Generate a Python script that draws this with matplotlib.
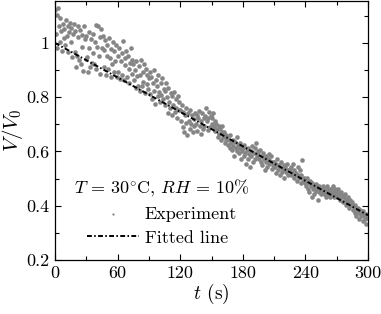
import numpy as np
import matplotlib
matplotlib.use("Agg")
import matplotlib.pyplot as plt
from matplotlib.ticker import MultipleLocator

plt.rcParams["font.family"] = "serif"
plt.rcParams["font.serif"] = ["cmr10"]
plt.rcParams["mathtext.fontset"] = "cm"
plt.rcParams["axes.formatter.use_mathtext"] = True
plt.rcParams["axes.unicode_minus"] = False

# measured V/V0, one sample every 0.75 s (rows of 15 s)
sample_dt = 0.75
v_exp = [
    1.121, 1.034, 1.102, 0.983, 1.128, 1.062, 1.004, 1.093, 1.045, 0.972, 1.071, 1.018, 1.052, 0.994, 1.083, 1.027, 1.064, 0.968, 1.041, 1.072,
    1.003, 1.054, 0.948, 1.032, 1.069, 0.967, 1.043, 0.912, 0.952, 1.061, 1.021, 0.936, 1.048, 0.924, 1.029, 0.986, 0.898, 1.063, 1.014, 0.942,
    1.024, 0.947, 0.893, 1.041, 0.982, 0.913, 1.013, 0.928, 0.964, 1.033, 0.921, 1.002, 1.068, 0.904, 0.987, 1.062, 0.953, 1.021, 0.887, 1.052,
    0.983, 1.027, 0.911, 0.974, 1.012, 0.883, 0.952, 0.991, 0.904, 1.018, 0.943, 0.874, 0.978, 0.922, 1.003, 0.892, 0.971, 0.934, 0.992, 0.873,
    0.951, 0.892, 0.983, 0.867, 0.934, 0.962, 0.883, 1.007, 0.862, 0.943, 0.918, 0.972, 0.874, 0.951, 0.903, 0.852, 0.928, 0.981, 0.884, 0.937,
    0.924, 0.863, 0.901, 0.833, 0.932, 0.877, 0.842, 0.914, 0.822, 0.881, 0.938, 0.843, 0.892, 0.858, 0.921, 0.814, 0.903, 0.847, 0.882, 0.831,
    0.872, 0.893, 0.811, 0.874, 0.793, 0.852, 0.902, 0.824, 0.774, 0.863, 0.842, 0.803, 0.881, 0.818, 0.782, 0.853, 0.807, 0.872, 0.794, 0.832,
    0.823, 0.771, 0.853, 0.802, 0.743, 0.834, 0.782, 0.762, 0.814, 0.733, 0.803, 0.772, 0.821, 0.744, 0.793, 0.761, 0.722, 0.804, 0.752, 0.783,
    0.752, 0.713, 0.771, 0.692, 0.744, 0.671, 0.733, 0.762, 0.704, 0.662, 0.741, 0.713, 0.683, 0.754, 0.702, 0.734, 0.673, 0.721, 0.694, 0.743,
    0.702, 0.733, 0.674, 0.722, 0.751, 0.693, 0.664, 0.714, 0.742, 0.682, 0.724, 0.693, 0.732, 0.762, 0.713, 0.681, 0.723, 0.744, 0.692, 0.731,
    0.722, 0.703, 0.741, 0.692, 0.713, 0.674, 0.702, 0.684, 0.652, 0.693, 0.664, 0.683, 0.643, 0.672, 0.694, 0.652, 0.673, 0.632, 0.661, 0.644,
    0.652, 0.623, 0.644, 0.662, 0.613, 0.632, 0.604, 0.643, 0.622, 0.583, 0.634, 0.612, 0.653, 0.602, 0.624, 0.593, 0.632, 0.614, 0.572, 0.603,
    0.613, 0.582, 0.624, 0.593, 0.553, 0.604, 0.572, 0.612, 0.591, 0.542, 0.603, 0.584, 0.622, 0.563, 0.594, 0.613, 0.574, 0.632, 0.583, 0.602,
    0.592, 0.573, 0.604, 0.562, 0.583, 0.552, 0.594, 0.571, 0.532, 0.582, 0.563, 0.543, 0.574, 0.592, 0.553, 0.564, 0.582, 0.534, 0.561, 0.552,
    0.563, 0.542, 0.553, 0.522, 0.571, 0.533, 0.552, 0.512, 0.543, 0.562, 0.523, 0.534, 0.551, 0.503, 0.542, 0.524, 0.533, 0.553, 0.514, 0.532,
    0.534, 0.512, 0.543, 0.522, 0.553, 0.503, 0.531, 0.514, 0.522, 0.493, 0.542, 0.512, 0.502, 0.533, 0.484, 0.513, 0.568, 0.492, 0.503, 0.483,
    0.493, 0.472, 0.503, 0.462, 0.483, 0.452, 0.492, 0.474, 0.432, 0.482, 0.463, 0.443, 0.472, 0.454, 0.481, 0.462, 0.423, 0.473, 0.452, 0.463,
    0.442, 0.462, 0.453, 0.472, 0.443, 0.461, 0.432, 0.452, 0.471, 0.441, 0.463, 0.452, 0.434, 0.462, 0.443, 0.472, 0.451, 0.433, 0.462, 0.442,
    0.453, 0.432, 0.461, 0.442, 0.423, 0.452, 0.433, 0.441, 0.412, 0.432, 0.423, 0.443, 0.402, 0.421, 0.434, 0.412, 0.392, 0.423, 0.403, 0.414,
    0.402, 0.383, 0.394, 0.372, 0.403, 0.362, 0.381, 0.392, 0.373, 0.352, 0.384, 0.362, 0.373, 0.343, 0.382, 0.363, 0.352, 0.334, 0.371, 0.353,
]
t_exp = np.arange(len(v_exp)) * sample_dt

# fitted line end points
fit_t = [0, 300]
fit_v = [1.0, 0.365]

yticks = [0.2, 0.4, 0.6, 0.8, 1.0]
ytick_labels = ["0.2", "0.4", "0.6", "0.8", "1"]
xticks = [0, 60, 120, 180, 240, 300]

fig = plt.figure(figsize=(3.81, 3.14), dpi=100)
ax = fig.add_axes([0.1444, 0.172, 0.8215, 0.825])

ax.scatter(t_exp, v_exp, s=11, color="#858585", linewidths=0, label="Experiment", zorder=2)
ax.plot(fit_t, fit_v, color="black", lw=1.4, linestyle=(0, (2.5, 1.2, 0.8, 1.2)),
        label="Fitted line", zorder=3)

ax.set_xlim(0, 300)
ax.set_ylim(0.2, 1.155)
ax.set_xticks(xticks)
ax.set_xticklabels([str(x) for x in xticks])
ax.set_yticks(yticks)
ax.set_yticklabels(ytick_labels)
ax.xaxis.set_minor_locator(MultipleLocator(30))
ax.yaxis.set_minor_locator(MultipleLocator(0.1))
ax.tick_params(which="both", direction="in", top=True, right=True, labelsize=13, width=0.8)
ax.tick_params(which="major", length=4, pad=4)
ax.tick_params(which="minor", length=3)
for s in ax.spines.values():
    s.set_linewidth(0.9)

ax.set_xlabel(r"$t$ (s)", fontsize=14, labelpad=1)
ax.set_ylabel(r"$V/V_0$", fontsize=15, labelpad=1)

leg = ax.legend(title=r"$T$ = 30$^{\circ}$C, $RH$ = 10%", loc="lower left",
                bbox_to_anchor=(0.02, 0.006), frameon=False, fontsize=13,
                title_fontsize=13, handlelength=2.9, handletextpad=0.3,
                markerscale=0.5, labelspacing=0.45, borderpad=0.2)

fig.savefig("out.png", dpi=100)
